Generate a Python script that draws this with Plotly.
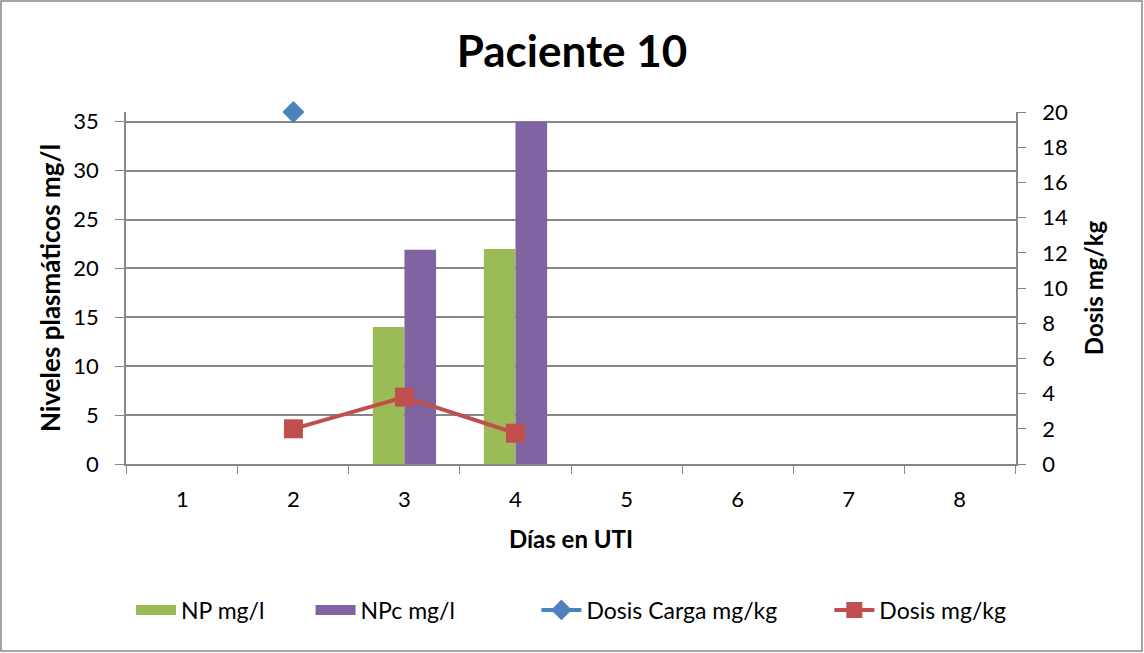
import plotly.graph_objects as go

# Días en UTI
dias = ["1", "2", "3", "4", "5", "6", "7", "8"]

# Niveles plasmáticos (mg/l)
np_mgl = [None, None, 14, 22, None, None, None, None]
npc_mgl = [None, None, 21.9, 35, None, None, None, None]

# Dosis (mg/kg)
dosis_carga = [None, 20, None, None, None, None, None, None]
dosis = [None, 2, 3.8, 1.75, None, None, None, None]

left_ticks = [0, 5, 10, 15, 20, 25, 30, 35]
right_ticks = [0, 2, 4, 6, 8, 10, 12, 14, 16, 18, 20]

FONT = "Lato"
GRID = "#878787"
AXIS = "#878787"
GREEN, PURPLE, BLUE, RED = "#9BBB59", "#8064A2", "#4F81BD", "#C0504D"


def pad(n):
    # trailing non-breaking spaces widen the gap before the next legend entry
    return "\u00a0" * n


fig = go.Figure()
fig.add_trace(go.Bar(x=dias, y=np_mgl, name="NP mg/l", marker_color=GREEN,
                     marker_line_width=0, showlegend=False, legendgroup="np"))
fig.add_trace(go.Bar(x=dias, y=npc_mgl, name="NPc mg/l", marker_color=PURPLE,
                     marker_line_width=0, showlegend=False, legendgroup="npc"))

# wide rectangular legend swatches for the bar series
fig.add_trace(go.Scatter(x=[None], y=[None], name="NP mg/l" + pad(7), mode="lines",
                         line=dict(color=GREEN, width=15), legendgroup="np"))
fig.add_trace(go.Scatter(x=[None], y=[None], name="NPc mg/l" + pad(13), mode="lines",
                         line=dict(color=PURPLE, width=15), legendgroup="npc"))

fig.add_trace(go.Scatter(x=dias, y=dosis_carga, name="Dosis Carga mg/kg" + pad(8),
                         yaxis="y2", mode="lines+markers", cliponaxis=False,
                         line=dict(color=BLUE, width=4),
                         marker=dict(symbol="diamond", size=17, color=BLUE)))
fig.add_trace(go.Scatter(x=dias, y=dosis, name="Dosis mg/kg", yaxis="y2",
                         mode="lines+markers", cliponaxis=False,
                         line=dict(color=RED, width=4),
                         marker=dict(symbol="square", size=19, color=RED)))

# outer frame around the chart area (paper coords from margins)
L, R, T, B = 126, 128, 112, 189
W, H = 1144, 653
pw, ph = W - L - R, H - T - B
def px(x):
    return (x - L) / pw
def py(y):
    return (H - B - y) / ph

fig.add_shape(type="rect", xref="paper", yref="paper",
              x0=px(1), x1=px(W - 2), y0=py(1), y1=py(H - 2),
              line=dict(color="#868686", width=1.5), layer="below")

fig.update_layout(
    width=W, height=H,
    margin=dict(l=L, r=R, t=T, b=B),
    paper_bgcolor="white", plot_bgcolor="white",
    font=dict(family=FONT, size=23, color="#000000"),
    title=dict(text="<b>Paciente 10</b>", x=0.5, xanchor="center",
               y=1 - 52 / H, yanchor="middle",
               font=dict(family=FONT, size=44, color="#000000")),
    barmode="group", bargap=0.43, bargroupgap=0,
    xaxis=dict(type="category", tickson="boundaries", ticks="outside", ticklen=8,
               tickcolor=AXIS, showline=True, linecolor=AXIS, linewidth=1.5,
               showgrid=False, tickfont=dict(size=22), ticklabelstandoff=15,
               title=dict(text="<b>Días en UTI</b>", font=dict(size=24), standoff=20)),
    yaxis=dict(range=[0, 36], tickvals=left_ticks, ticks="outside", ticklen=9,
               tickcolor=AXIS, showline=True, linecolor=AXIS, linewidth=1.5,
               showgrid=True, gridcolor=GRID, gridwidth=1.5, zeroline=False,
               tickfont=dict(size=22), ticklabelstandoff=12,
               title=dict(text="<b>Niveles plasmáticos mg/l</b>", font=dict(size=26),
                          standoff=5)),
    yaxis2=dict(range=[0, 20], tickvals=right_ticks, overlaying="y", side="right",
                ticks="outside", ticklen=8, tickcolor=AXIS, showline=True,
                linecolor=AXIS, linewidth=1.5, showgrid=False, zeroline=False,
                tickfont=dict(size=22), ticklabelstandoff=12,
                title=dict(text="<b>Dosis mg/kg</b>", font=dict(size=24), standoff=19)),
    legend=dict(orientation="h", x=0.5, xanchor="center", y=py(610), yanchor="middle",
                font=dict(size=23), itemwidth=40, traceorder="normal"),
)

fig.write_html("out.html")
